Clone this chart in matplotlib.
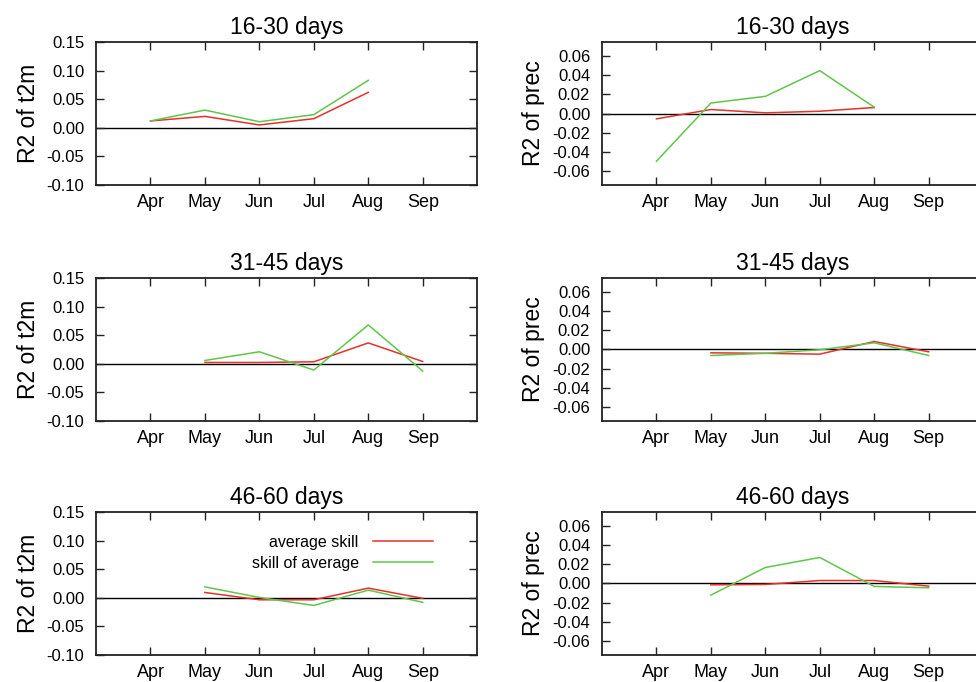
import matplotlib
matplotlib.use("Agg")
import matplotlib.pyplot as plt

plt.rcParams['font.family'] = ['Liberation Sans', 'DejaVu Sans']

months = [4, 5, 6, 7, 8, 9]
month_labels = ["Apr", "May", "Jun", "Jul", "Aug", "Sep"]
leads = ["16-30 days", "31-45 days", "46-60 days"]

# t2m, average skill (red) / skill of average (green)
t2m_avg_skill = [
    [0.012, 0.020, 0.005, 0.016, 0.062, None],
    [None, 0.0023, 0.0023, 0.0035, 0.0365, 0.004],
    [None, 0.0093, -0.0035, -0.0035, 0.0169, -0.001],
]
t2m_skill_avg = [
    [0.012, 0.031, 0.0106, 0.023, 0.083, None],
    [None, 0.0058, 0.021, -0.011, 0.068, -0.0127],
    [None, 0.019, 0.0006, -0.0134, 0.0134, -0.008],
]

# prec
prec_avg_skill = [
    [-0.0056, 0.0042, 0.0007, 0.0024, 0.0063, None],
    [None, -0.0035, -0.004, -0.0049, 0.0084, -0.0024],
    [None, -0.0014, -0.001, 0.0031, 0.0031, -0.0028],
]
prec_skill_avg = [
    [-0.050, 0.011, 0.018, 0.045, 0.0066, None],
    [None, -0.0063, -0.004, -0.0003, 0.007, -0.0063],
    [None, -0.0122, 0.0168, 0.0273, -0.0031, -0.0045],
]

RED = "#e8302a"
GREEN = "#5fc64a"

fig = plt.figure(figsize=(9.76, 6.82), dpi=100)

row_bottoms = [0.7287, 0.3827, 0.0396]
col_lefts = [0.0984, 0.6168]
w, h = 0.3905, 0.2097


def clean(xs, ys):
    pts = [(x, y) for x, y in zip(xs, ys) if y is not None]
    return [p[0] for p in pts], [p[1] for p in pts]


def style(ax, ylabel, title, right=True):
    ax.set_xlim(3, 10)
    ax.set_xticks(months)
    ax.set_xticklabels(month_labels)
    ax.axhline(0, color="black", lw=1.0, zorder=1)
    ax.tick_params(direction="in", top=True, right=right, length=6, width=1.0,
                   color="#222222")
    ax.tick_params(axis="x", pad=6.5, labelsize=13)
    ax.tick_params(axis="y", pad=8.5, labelsize=12)
    for s in ax.spines.values():
        s.set_linewidth(1.3)
        s.set_color("#222222")
    ax.set_ylabel(ylabel, fontsize=16.5, labelpad=5)
    ax.set_title(title, fontsize=16.5, pad=6)


for i, lead in enumerate(leads):
    ax = fig.add_axes([col_lefts[0], row_bottoms[i], w, h])
    x, y = clean(months, t2m_avg_skill[i])
    ax.plot(x, y, color=RED, lw=1.1, label="average skill", zorder=3)
    x, y = clean(months, t2m_skill_avg[i])
    ax.plot(x, y, color=GREEN, lw=1.1, label="skill of average", zorder=3)
    ax.set_ylim(-0.10, 0.15)
    yt = [-0.10, -0.05, 0.0, 0.05, 0.10, 0.15]
    ax.set_yticks(yt)
    ax.set_yticklabels(["%.2f" % v for v in yt])
    style(ax, "R2 of t2m", lead)
    if i == 2:
        ax.legend(loc="upper right", frameon=False, markerfirst=False,
                  fontsize=11.5, handlelength=3.75, handletextpad=0.9,
                  labelspacing=0.35, borderpad=0.0,
                  bbox_to_anchor=(0.905, 0.895))

    ax = fig.add_axes([col_lefts[1], row_bottoms[i], w, h])
    x, y = clean(months, prec_avg_skill[i])
    ax.plot(x, y, color=RED, lw=1.1, zorder=3)
    x, y = clean(months, prec_skill_avg[i])
    ax.plot(x, y, color=GREEN, lw=1.1, zorder=3)
    ax.set_ylim(-0.075, 0.075)
    yt = [-0.06, -0.04, -0.02, 0.0, 0.02, 0.04, 0.06]
    ax.set_yticks(yt)
    ax.set_yticklabels(["%.2f" % v for v in yt])
    style(ax, "R2 of prec", lead, right=False)

fig.savefig("out.png", dpi=100)
